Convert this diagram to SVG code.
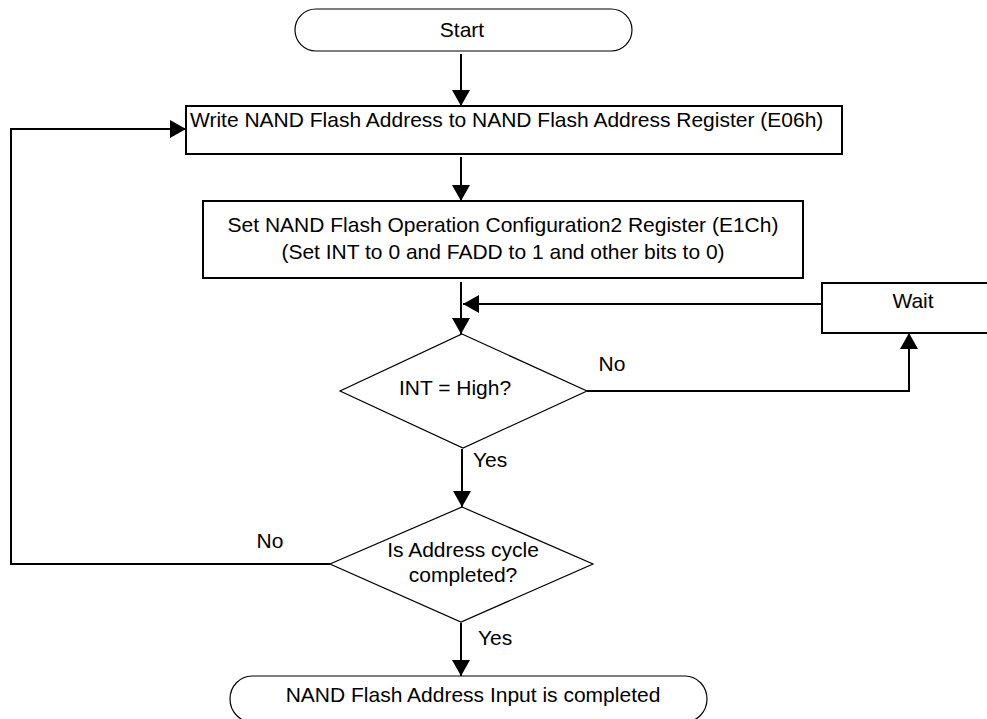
<svg xmlns="http://www.w3.org/2000/svg" width="987" height="719" viewBox="0 0 987 719">
<style>
text{font-family:"Liberation Sans",Arial,sans-serif;font-size:21px;fill:#000}
.box{fill:#fff;stroke:#000;stroke-width:2}
.pill{fill:#fff;stroke:#000;stroke-width:1.2}
.dia{fill:#fff;stroke:#000;stroke-width:1.2}
.c{fill:none;stroke:#000;stroke-width:2}
.m{text-anchor:middle}
</style>
<defs>
<marker id="ah" markerUnits="userSpaceOnUse" markerWidth="17" markerHeight="18" refX="16" refY="9" orient="auto">
<path d="M0,0 L16,9 L0,18 z" fill="#000"/>
</marker>
</defs>
<rect width="987" height="719" fill="#fff"/>
<g id="connectors">
<path class="c" d="M461,54 V106" marker-end="url(#ah)"/>
<path class="c" d="M461,157 V201" marker-end="url(#ah)"/>
<path class="c" d="M461,282 V334" marker-end="url(#ah)"/>
<path class="c" d="M822,304 H463" marker-end="url(#ah)"/>
<path class="c" d="M587,391 H909 V333" marker-end="url(#ah)"/>
<path class="c" d="M462,449 V507" marker-end="url(#ah)"/>
<path class="c" d="M461,623 V676" marker-end="url(#ah)"/>
<path class="c" d="M330,564 H11 V129 H186" marker-end="url(#ah)"/>
<text x="612" y="371" class="m">No</text>
<text x="473" y="467">Yes</text>
<text x="270" y="548" class="m">No</text>
<text x="478" y="645">Yes</text>
</g>
<g id="start">
<rect class="pill" x="295" y="9" width="337" height="42" rx="21" ry="21"/>
<text x="462" y="37" class="m">Start</text>
</g>
<g id="write">
<rect class="box" x="186" y="106" width="656" height="48"/>
<text x="190" y="127">Write NAND Flash Address to NAND Flash Address Register (E06h)</text>
</g>
<g id="set">
<rect class="box" x="203" y="201" width="600" height="77"/>
<text x="503" y="232" class="m">Set NAND Flash Operation Configuration2 Register (E1Ch)</text>
<text x="503" y="259" class="m">(Set INT to 0 and FADD to 1 and other bits to 0)</text>
</g>
<g id="wait">
<rect class="box" x="822" y="283" width="180" height="50"/>
<text x="913" y="308" class="m">Wait</text>
</g>
<g id="int-high">
<polygon class="dia" points="462,334 587,391 463,448 340,391"/>
<text x="455" y="395" class="m">INT = High?</text>
</g>
<g id="addr-done">
<polygon class="dia" points="462,507 593,564 461,622 330,564"/>
<text x="463" y="557" class="m">Is Address cycle</text>
<text x="463" y="582" class="m">completed?</text>
</g>
<g id="end">
<rect class="pill" x="230" y="676" width="477" height="46" rx="22" ry="23"/>
<text x="473" y="702" class="m">NAND Flash Address Input is completed</text>
</g>
</svg>
